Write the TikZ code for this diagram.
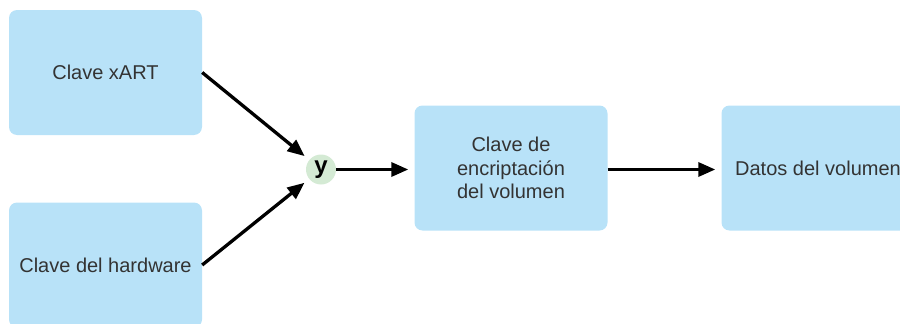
\documentclass[tikz,border=0pt]{standalone}
\usepackage{fontspec}
\setmainfont{Liberation Sans}
\usetikzlibrary{arrows.meta}
\definecolor{keyblue}{RGB}{184,226,248}
\definecolor{andgreen}{RGB}{212,234,212}
\definecolor{textgray}{RGB}{51,51,51}
\begin{document}
\begin{tikzpicture}[x=1pt,y=-1pt]
\tikzstyle{every node}+=[inner sep=0pt,text=textgray,font=\fontsize{20}{23.5}\selectfont]
\tikzstyle{keybox}=[rectangle,fill=keyblue,rounded corners=8pt,minimum width=193pt,minimum height=125pt,align=center]
\tikzstyle{joint}=[circle,fill=andgreen,minimum size=30pt,text=black,font=\fontsize{24}{26}\selectfont\bfseries]
\tikzstyle{flow}=[line width=3.3pt,-{Triangle[length=17pt,width=14pt]},shorten >=6pt]
\useasboundingbox (0,0) rectangle (900,324);
\node [keybox] (xart) at (105.5,72.5) {Clave xART};
\node [keybox] (hw) at (105.5,265) {Clave del hardware};
\node [joint] (y) at (321,169.5) {y};
\node [keybox] (vek) at (511,168) {Clave de\\encriptación\\del volumen};
\node [keybox] (data) at (818,168) {Datos del volumen};
\draw [flow] (xart.east) -- (y);
\draw [flow] (hw.east) -- (y);
\draw [flow] (y.east) -- (vek.west |- y.east);
\draw [flow] (vek.east |- y.east) -- (data.west |- y.east);
\end{tikzpicture}
\end{document}
